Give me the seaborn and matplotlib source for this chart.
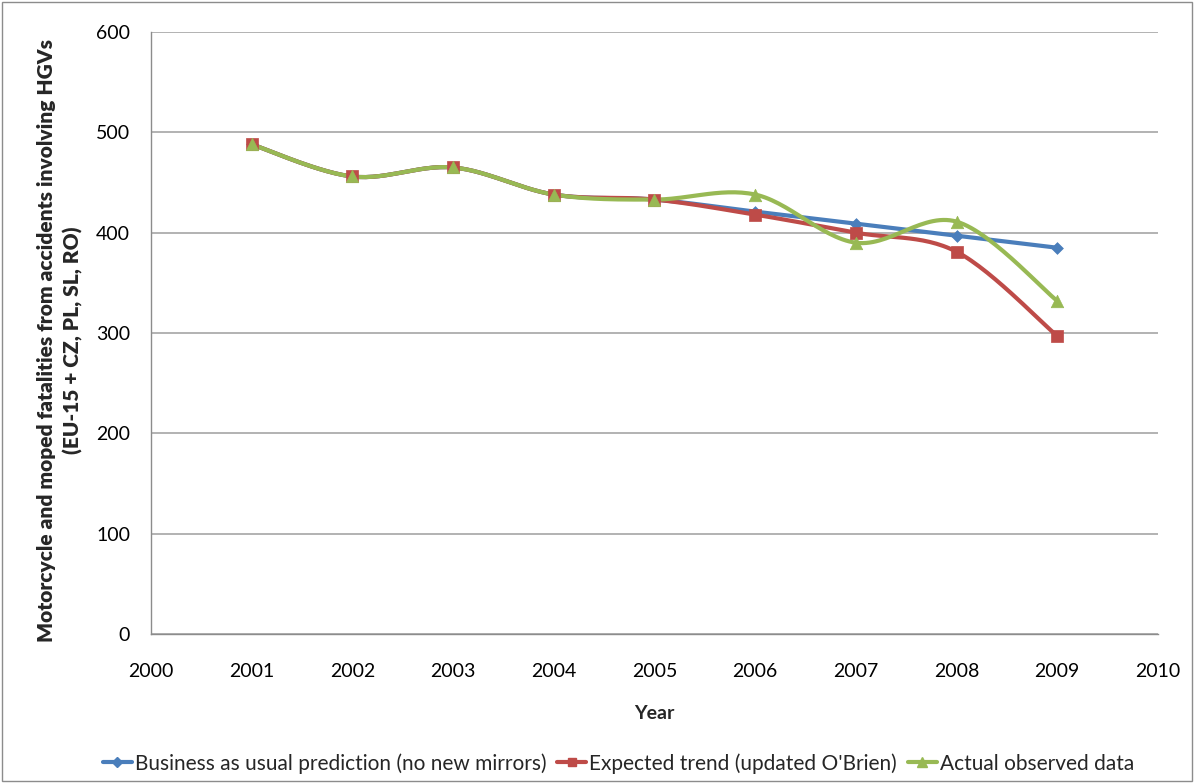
import numpy as np
import pandas as pd
import matplotlib
matplotlib.use("Agg")
import matplotlib.pyplot as plt
import seaborn as sns
from matplotlib.patches import Rectangle

years = [2001, 2002, 2003, 2004, 2005, 2006, 2007, 2008, 2009]
business_as_usual = [488, 456, 465, 438, 433, 421, 409, 397, 385]
expected_trend = [488, 456, 465, 438, 433, 418, 400, 381, 297]
actual_observed = [488, 456, 465, 438, 433, 438, 390, 411, 332]

series_names = [
    "Business as usual prediction (no new mirrors)",
    "Expected trend (updated O'Brien)",
    "Actual observed data",
]
series_values = [business_as_usual, expected_trend, actual_observed]
colors = ["#4A7EBB", "#BE4B48", "#98B954"]
markers = ["D", "s", "^"]
marker_sizes = [6, 8, 9]


def smooth_curve(x, y, steps=30, tension=1 / 6):
    """Cardinal Bezier smoothing through the data points."""
    x = np.asarray(x, float)
    y = np.asarray(y, float)
    n = len(x)
    xs, ys = [], []
    for i in range(n - 1):
        p0 = np.array([x[max(i - 1, 0)], y[max(i - 1, 0)]])
        p1 = np.array([x[i], y[i]])
        p2 = np.array([x[i + 1], y[i + 1]])
        p3 = np.array([x[min(i + 2, n - 1)], y[min(i + 2, n - 1)]])
        c1 = p1 + (p2 - p0) * tension
        c2 = p2 - (p3 - p1) * tension
        t = np.linspace(0, 1, steps, endpoint=(i == n - 2))[:, None]
        pts = ((1 - t) ** 3) * p1 + 3 * ((1 - t) ** 2) * t * c1 + 3 * (1 - t) * t ** 2 * c2 + t ** 3 * p2
        xs.append(pts[:, 0])
        ys.append(pts[:, 1])
    return np.concatenate(xs), np.concatenate(ys)


sns.set_theme(style="white")
plt.rcParams["font.family"] = ["Lato", "DejaVu Sans"]

fig = plt.figure(figsize=(11.94, 7.83), dpi=100)
ax = fig.add_axes([0.1265, 0.1903, 0.9698 - 0.1265, 0.9591 - 0.1903])

for name, vals, col, mk, ms in zip(series_names, series_values, colors, markers, marker_sizes):
    sx, sy = smooth_curve(years, vals)
    curve = pd.DataFrame({"x": sx, "y": sy})
    sns.lineplot(data=curve, x="x", y="y", ax=ax, color=col, linewidth=3, sort=False,
                 estimator=None, zorder=2)
    pts = pd.DataFrame({"x": years, "y": vals})
    sns.scatterplot(data=pts, x="x", y="y", ax=ax, color=col, marker=mk, s=ms ** 2,
                    edgecolor=col, linewidth=0.5, zorder=3)

ax.set_xlim(2000, 2010)
ax.set_ylim(0, 600)
ax.set_xticks(range(2000, 2011))
ax.set_yticks(range(0, 601, 100))
ax.yaxis.grid(True, color="#A6A6A6", linewidth=1.2)
ax.xaxis.grid(False)
ax.set_axisbelow(True)
for s in ["top", "right"]:
    ax.spines[s].set_visible(False)
for s in ["left", "bottom"]:
    ax.spines[s].set_color("#8C8C8C")
    ax.spines[s].set_linewidth(1.0)
ax.tick_params(axis="both", which="major", direction="out", length=5, width=1,
               color="#8C8C8C", labelsize=14, labelcolor="black")
ax.tick_params(axis="x", pad=16)
ax.tick_params(axis="y", pad=10)

ax.set_xlabel("Year", fontsize=14, fontweight="bold", labelpad=18)
ax.set_ylabel("Motorcycle and moped fatalities from accidents involving HGVs\n(EU-15 + CZ, PL, SL, RO)",
              fontsize=15, fontweight="heavy", linespacing=1.4)
ax.yaxis.set_label_coords(-0.068, 0.488)

handles = [
    plt.Line2D([0], [0], color=c, marker=m, markersize=ms * 0.8, linewidth=3)
    for c, m, ms in zip(colors, markers, marker_sizes)
]
fig.legend(handles, series_names, loc="center", bbox_to_anchor=(0.518, 0.025),
           ncol=3, frameon=False, fontsize=15, handlelength=1.4, handletextpad=0.15,
           columnspacing=0.5)

fig.add_artist(Rectangle((0.002, 0.003), 0.996, 0.994, transform=fig.transFigure,
                         fill=False, edgecolor="#8C8C8C", linewidth=1))

fig.savefig("out.png", dpi=100)
